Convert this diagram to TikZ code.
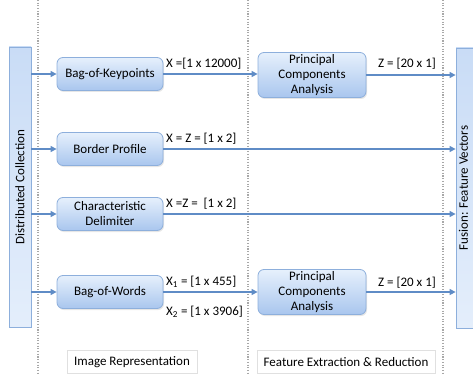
\documentclass[tikz,border=0pt]{standalone}
\usepackage{fontspec}
\setmainfont{Carlito}
\usetikzlibrary{arrows.meta,shadows}
\definecolor{boxtop}{HTML}{E6F0FC}
\definecolor{boxbot}{HTML}{A9C6EE}
\definecolor{boxline}{HTML}{8DAFDC}
\definecolor{arrcol}{HTML}{5F8CC6}
\definecolor{barL}{HTML}{C9DCF6}
\definecolor{barR}{HTML}{E4EEFB}
\definecolor{dotcol}{HTML}{A8A8A8}
\begin{document}
\begin{tikzpicture}[x=1pt,y=-1pt,
  every node/.style={font=\fontsize{13}{15}\selectfont},
  proc/.style={draw=boxline, line width=0.8pt, rounded corners=6pt, top color=boxtop, bottom color=boxbot,
    minimum width=106pt, minimum height=33pt, align=center, inner sep=1pt,
    drop shadow={opacity=0.2, shadow xshift=1pt, shadow yshift=-1.5pt}},
  pcabox/.style={proc, minimum width=108pt, minimum height=45pt},
  sidebar/.style={draw=boxline, line width=0.8pt, left color=barL, right color=barR, shading angle=0,
    minimum width=280pt, minimum height=22pt, inner sep=1pt, rotate=90},
  conn/.style={draw=arrcol, line width=1.3pt, -{Triangle[length=6pt,width=6pt]}},
  lbl/.style={inner sep=1pt},
  footer/.style={draw=black!12, fill=white, minimum height=23pt, inner sep=3pt},
  sep/.style={draw=dotcol, line width=1.1pt, dash pattern=on 1.1pt off 1.6pt}
]
\useasboundingbox (0,0) rectangle (473,374);
% separators
\coordinate (s1t) at (38,0); \coordinate (s1b) at (38,374);
\coordinate (s2t) at (248,0); \coordinate (s2b) at (248,374);
\coordinate (s3t) at (443,0); \coordinate (s3b) at (443,374);
\draw[sep] (s1t) -- (s1b);
\draw[sep] (s2t) -- (s2b);
\draw[sep] (s3t) -- (s3b);
% side bars
\node[sidebar] (dc) at (20,187) {Distributed Collection};
\node[sidebar] (fv) at (467,188) {};
\node[rotate=90, inner sep=0pt] (fvt) at (463.5,188) {Fusion: Feature Vectors};
% process boxes
\node[proc] (bok) at (110,74) {Bag-of-Keypoints};
\node[proc] (bp)  at (110,149) {Border Profile};
\node[proc] (cd)  at (110,214) {Characteristic\\Delimiter};
\node[proc] (bow) at (110,292) {Bag-of-Words};
\node[pcabox] (pca1) at (312,75) {Principal\\Components\\Analysis};
\node[pcabox] (pca2) at (312,292) {Principal\\Components\\Analysis};
% connectors from left bar
\draw[conn] (dc.south |- bok.west) -- (bok.west);
\draw[conn] (dc.south |- bp.west) -- (bp.west);
\draw[conn] (dc.south |- cd.west) -- (cd.west);
\draw[conn] (dc.south |- bow.west) -- (bow.west);
% middle connectors
\draw[conn] (bok.east) -- (pca1.west |- bok.east);
\draw[conn] (bow.east) -- (pca2.west |- bow.east);
\draw[conn] (pca1.east) -- (fv.north |- pca1.east);
\draw[conn] (pca2.east) -- (fv.north |- pca2.east);
\draw[conn] (bp.east) -- (fv.north |- bp.east);
\draw[conn] (cd.east) -- (fv.north |- cd.east);
% labels
\node[lbl, anchor=west] (l1) at (165,64) {X =[1 x 12000]};
\node[lbl] (l2) at (407,64) {Z = [20 x 1]};
\node[lbl, anchor=west] (l3) at (165,139) {X = Z = [1 x 2]};
\node[lbl, anchor=west] (l4) at (165,204) {X =Z =\ \ [1 x 2]};
\node[lbl, anchor=west] (l5) at (165,282) {X\textsubscript{1} = [1 x 455]};
\node[lbl, anchor=west] (l6) at (165,312) {X\textsubscript{2} = [1 x 3906]};
\node[lbl] (l7) at (407,283) {Z = [20 x 1]};
% footers
\node[footer, minimum width=130pt] (f1) at (132,362) {Image Representation};
\node[footer, minimum width=178pt] (f2) at (346,362) {Feature Extraction \& Reduction};
\end{tikzpicture}
\end{document}
